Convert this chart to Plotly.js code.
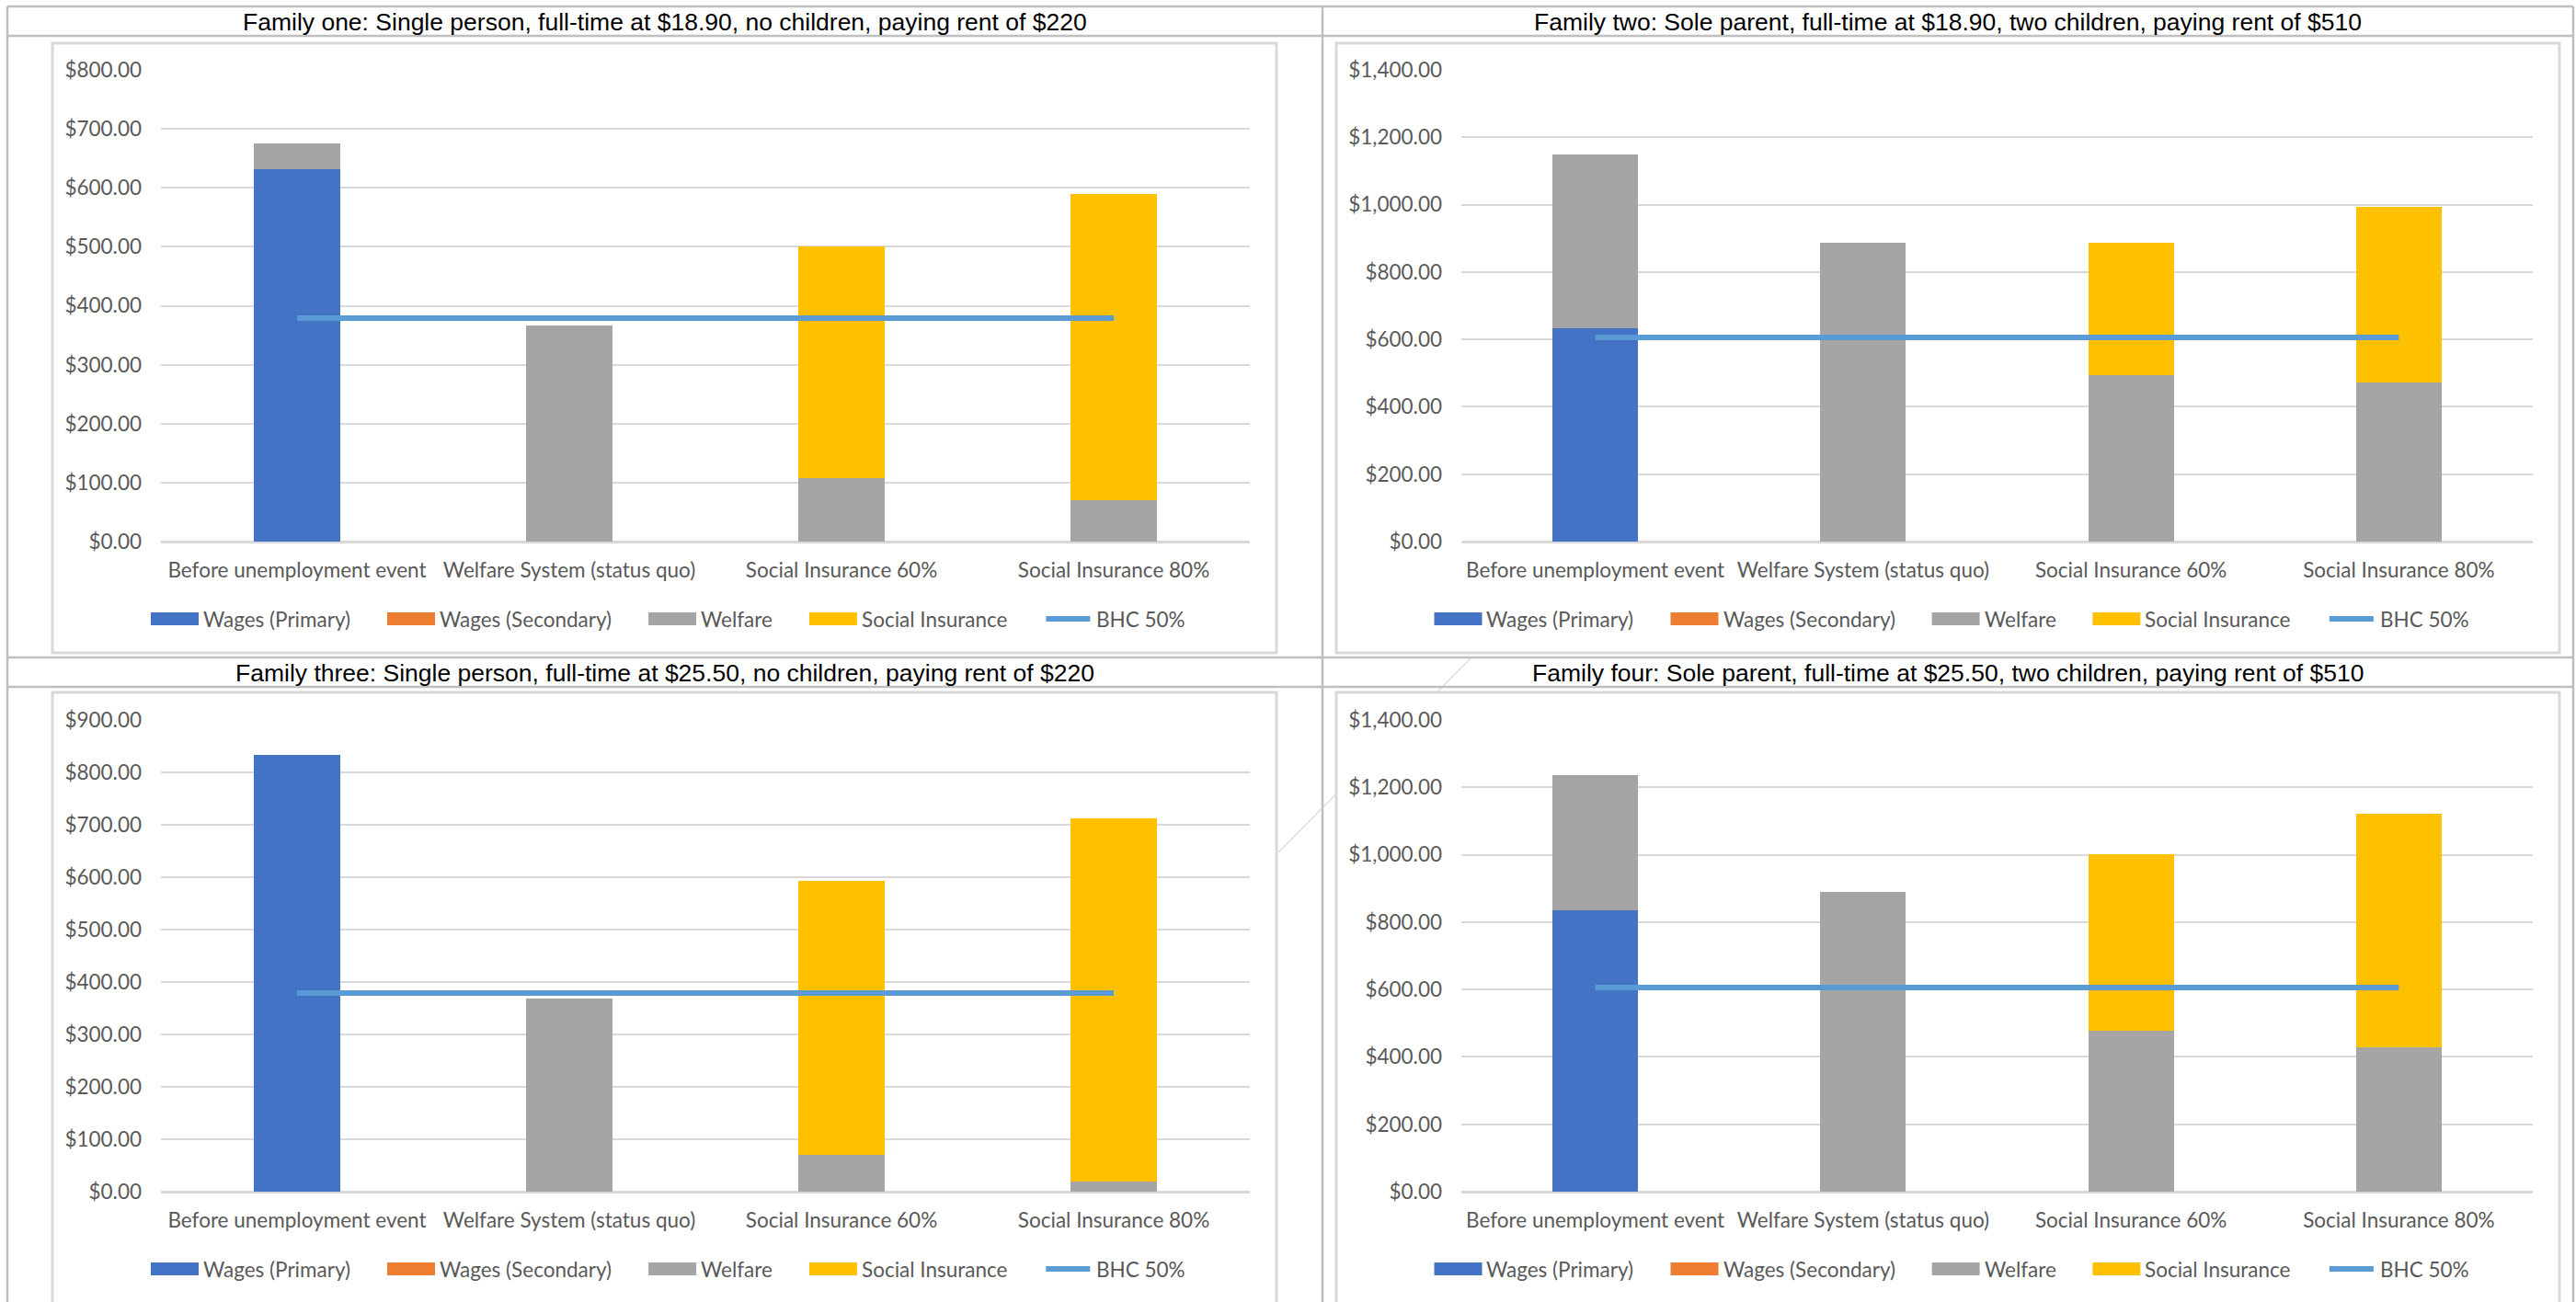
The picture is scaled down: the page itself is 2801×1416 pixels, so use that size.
<!DOCTYPE html>
<html>
<head>
<meta charset="utf-8">
<script src="https://cdn.plot.ly/plotly-3.0.1.min.js"></script>
<style>
  html, body { margin: 0; padding: 0; background: #ffffff; }
  #chart { width: 2801px; height: 1416px; }
</style>
</head>
<body>
<div id="chart"></div>
<script>
// ---- Data -------------------------------------------------------------
const categories = [
  "Before unemployment event",
  "Welfare System (status quo)",
  "Social Insurance 60%",
  "Social Insurance 80%"
];

const seriesNames  = ["Wages (Primary)", "Wages (Secondary)", "Welfare", "Social Insurance", "BHC 50%"];
const seriesColors = ["#4472c4", "#ed7d31", "#a5a5a5", "#ffc000", "#5b9bd5"];

const familyTitles = [
  "Family one: Single person, full-time at $18.90, no children, paying rent of $220",
  "Family two: Sole parent, full-time at $18.90, two children, paying rent of $510",
  "Family three: Single person, full-time at $25.50, no children, paying rent of $220",
  "Family four: Sole parent, full-time at $25.50, two children, paying rent of $510"
];

// Family one
const wagesPrimary1    = [632, 0, 0, 0];
const wagesSecondary1  = [0, 0, 0, 0];
const welfare1         = [44, 367, 108, 70];
const socialInsurance1 = [0, 0, 393, 519];
const bhc1             = [379, 379, 379, 379];

// Family two
const wagesPrimary2    = [632, 0, 0, 0];
const wagesSecondary2  = [0, 0, 0, 0];
const welfare2         = [516, 888, 495, 473];
const socialInsurance2 = [0, 0, 393, 520];
const bhc2             = [606, 606, 606, 606];

// Family three
const wagesPrimary3    = [834, 0, 0, 0];
const wagesSecondary3  = [0, 0, 0, 0];
const welfare3         = [0, 368, 70, 19];
const socialInsurance3 = [0, 0, 523, 693];
const bhc3             = [379, 379, 379, 379];

// Family four
const wagesPrimary4    = [834, 0, 0, 0];
const wagesSecondary4  = [0, 0, 0, 0];
const welfare4         = [401, 889, 477, 429];
const socialInsurance4 = [0, 0, 524, 692];
const bhc4             = [606, 606, 606, 606];

// Value axis extent and step for each family chart
const axisMax  = [800, 1400, 900, 1400];
const axisStep = [100, 200, 100, 200];

// ---- Page geometry (pixels) ----------------------------------------------
const W = 2801, H = 1416;
const fx = p => p / W;
const fy = p => 1 - p / H;

const panels = [
  { plotL: 175,  plotR: 1359, y0: 589,  yTop: 76,  boxL: 57,   boxR: 1388, boxT: 47,  boxB: 710,  titleCx: 723,  titleCy: 24,  legY: 673 },
  { plotL: 1589, plotR: 2754, y0: 589,  yTop: 76,  boxL: 1453, boxR: 2783, boxT: 47,  boxB: 710,  titleCx: 2118, titleCy: 24,  legY: 673 },
  { plotL: 175,  plotR: 1359, y0: 1296, yTop: 783, boxL: 57,   boxR: 1388, boxT: 753, boxB: 1424, titleCx: 723,  titleCy: 732, legY: 1380 },
  { plotL: 1589, plotR: 2754, y0: 1296, yTop: 783, boxL: 1453, boxR: 2783, boxT: 753, boxB: 1424, titleCx: 2118, titleCy: 732, legY: 1380 }
];

const families = [
  [wagesPrimary1, wagesSecondary1, welfare1, socialInsurance1, bhc1],
  [wagesPrimary2, wagesSecondary2, welfare2, socialInsurance2, bhc2],
  [wagesPrimary3, wagesSecondary3, welfare3, socialInsurance3, bhc3],
  [wagesPrimary4, wagesSecondary4, welfare4, socialInsurance4, bhc4]
];

const labelFont = { family: "Lato, 'Open Sans', sans-serif", size: 22.5, color: "#595959" };
const titleFont = { family: "'Liberation Sans', Arial, sans-serif", size: 26.5, color: "#000000" };

// ---- Traces ----------------------------------------------------------------
const traces = [];
families.forEach((fam, i) => {
  const sfx = i === 0 ? "" : String(i + 1);
  for (let k = 0; k < 4; k++) {
    traces.push({
      type: "bar",
      name: seriesNames[k],
      x: categories,
      y: fam[k],
      xaxis: "x" + sfx,
      yaxis: "y" + sfx,
      marker: { color: seriesColors[k], line: { width: 0 } },
      hoverinfo: "skip"
    });
  }
  traces.push({
    type: "scatter",
    mode: "lines",
    name: seriesNames[4],
    x: categories,
    y: fam[4],
    xaxis: "x" + sfx,
    yaxis: "y" + sfx,
    line: { color: seriesColors[4], width: 6 },
    hoverinfo: "skip"
  });
});

// ---- Layout ----------------------------------------------------------------
const layout = {
  width: W,
  height: H,
  autosize: false,
  margin: { l: 0, r: 0, t: 0, b: 0, pad: 0 },
  paper_bgcolor: "#ffffff",
  plot_bgcolor: "rgba(0,0,0,0)",
  barmode: "stack",
  bargap: 0.68,
  showlegend: false,
  shapes: [],
  annotations: []
};

panels.forEach((p, i) => {
  const sfx = i === 0 ? "" : String(i + 1);
  layout["xaxis" + sfx] = {
    domain: [fx(p.plotL), fx(p.plotR)],
    anchor: "y" + sfx,
    type: "category",
    range: [-0.5, 3.5],
    showgrid: false,
    zeroline: false,
    showline: false,
    ticks: "",
    ticklabelstandoff: 15,
    tickfont: labelFont,
    fixedrange: true
  };
  layout["yaxis" + sfx] = {
    domain: [fy(p.y0), fy(p.yTop)],
    anchor: "x" + sfx,
    range: [0, axisMax[i]],
    dtick: axisStep[i],
    tick0: 0,
    tickprefix: "$",
    tickformat: ",.2f",
    showgrid: true,
    gridcolor: "#d9d9d9",
    gridwidth: 2,
    zeroline: true,
    zerolinecolor: "#d9d9d9",
    zerolinewidth: 3,
    showline: false,
    ticks: "",
    ticklabelstandoff: 20,
    tickfont: labelFont,
    fixedrange: true
  };
});

// Faint stray diagonal stroke crossing the middle title band
layout.shapes.push({
  type: "line", xref: "paper", yref: "paper", layer: "below",
  x0: fx(1600), y0: fy(715), x1: fx(1390), y1: fy(927),
  line: { color: "#dedede", width: 1.5 }
});

// Chart areas: white boxes with light grey border
panels.forEach(p => {
  layout.shapes.push({
    type: "rect", xref: "paper", yref: "paper", layer: "below",
    x0: fx(p.boxL), x1: fx(p.boxR), y0: fy(p.boxB), y1: fy(p.boxT),
    fillcolor: "#ffffff",
    line: { color: "#d9d9d9", width: 3 }
  });
});

// Table rules around the title bands
const ruleColor = "#bfbfbf";
[7, 39, 715, 747].forEach(y => {
  layout.shapes.push({
    type: "line", xref: "paper", yref: "paper", layer: "below",
    x0: fx(8), x1: fx(2798), y0: fy(y), y1: fy(y),
    line: { color: ruleColor, width: 2.5 }
  });
});
[8, 1438, 2798].forEach(x => {
  layout.shapes.push({
    type: "line", xref: "paper", yref: "paper", layer: "below",
    x0: fx(x), x1: fx(x), y0: fy(7), y1: fy(H + 5),
    line: { color: ruleColor, width: 2.5 }
  });
});

// Titles
panels.forEach((p, i) => {
  layout.annotations.push({
    text: familyTitles[i],
    xref: "paper", yref: "paper",
    x: fx(p.titleCx), y: fy(p.titleCy),
    xanchor: "center", yanchor: "middle",
    showarrow: false,
    font: titleFont
  });
});

// Legends: wide colour keys followed by series names, centred under each chart
const measureCtx = document.createElement("canvas").getContext("2d");
measureCtx.font = labelFont.size + "px Lato";
const keyW = 52, keyH = 14, keyGap = 5, itemGap = 40;
const nameWidths = seriesNames.map(s => measureCtx.measureText(s).width);
const legendTotal = nameWidths.reduce((a, w) => a + keyW + keyGap + w, 0) + itemGap * (seriesNames.length - 1);

panels.forEach(p => {
  let x = (p.boxL + p.boxR) / 2 + 4 - legendTotal / 2;
  seriesNames.forEach((name, k) => {
    if (k === 4) {
      layout.shapes.push({
        type: "line", xref: "paper", yref: "paper",
        x0: fx(x + 2), x1: fx(x + keyW - 2), y0: fy(p.legY), y1: fy(p.legY),
        line: { color: seriesColors[k], width: 6 }
      });
    } else {
      layout.shapes.push({
        type: "rect", xref: "paper", yref: "paper",
        x0: fx(x), x1: fx(x + keyW), y0: fy(p.legY + keyH / 2), y1: fy(p.legY - keyH / 2),
        fillcolor: seriesColors[k],
        line: { width: 0 }
      });
    }
    layout.annotations.push({
      text: name,
      xref: "paper", yref: "paper",
      x: fx(x + keyW + keyGap - 2), y: fy(p.legY),
      xanchor: "left", yanchor: "middle",
      showarrow: false,
      font: labelFont
    });
    x += keyW + keyGap + nameWidths[k] + itemGap;
  });
});

Plotly.newPlot("chart", traces, layout, { staticPlot: true, displayModeBar: false });
</script>
</body>
</html>
